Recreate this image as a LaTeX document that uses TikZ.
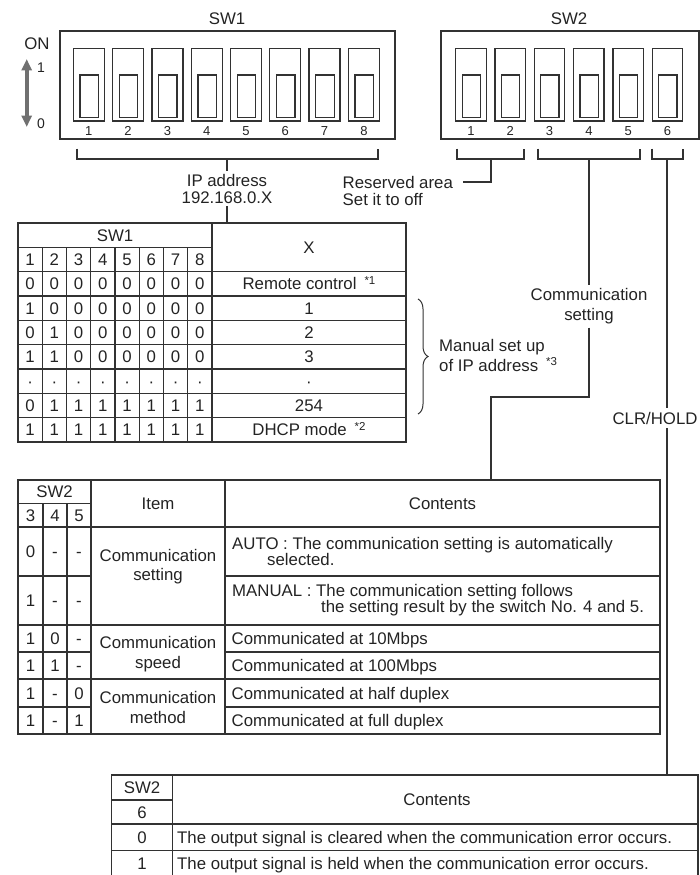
\documentclass[tikz,border=0pt]{standalone}
\usepackage{fontspec}
\setmainfont{Liberation Sans}
\usepackage{tikz}
\usetikzlibrary{arrows.meta,positioning,decorations.pathreplacing}
\definecolor{inkgrey}{RGB}{35,35,35}
\definecolor{rulegrey}{RGB}{50,50,50}
\definecolor{armgrey}{RGB}{112,112,112}
\newcommand{\fnmark}[1]{\hspace{8pt}\raisebox{5.5pt}{\fontsize{11.5}{11.5}\selectfont *#1}}

\begin{document}
\begin{tikzpicture}[x=1pt,y=-1pt,
  every node/.style={font=\fontsize{16.8}{17}\selectfont,text=inkgrey,inner sep=2pt},
  frame/.style={draw=rulegrey,line width=1.3pt},
  wire/.style={draw=rulegrey,line width=1.3pt},
  cell/.style={text height=12pt,text depth=0pt,inner sep=0pt},
  pin/.style={font=\fontsize{13}{13}\selectfont,text height=9.4pt,text depth=0pt,inner sep=0pt},
  arm/.style={draw=armgrey,line width=3.6pt,
              {Triangle[width=10pt,length=11.5pt]}-{Triangle[width=10pt,length=11.5pt]}}]

\useasboundingbox (0,0) rectangle (700,875);

% switch blocks
\node[cell] (sw1) at (227,19) {SW1};
\node[cell] (sw2) at (569,19) {SW2};
\draw[frame] (60,31) rectangle (395,139);
\draw[frame] (441,31) rectangle (699,139);
\foreach \i in {1,...,8} {
  \pgfmathsetmacro\xs{73.3+(\i-1)*39.3}
  \draw[frame] (\xs,48.5) rectangle ++(31,72.5);
  \draw[frame] (\xs+6.7,75) rectangle ++(18.5,42.3);
  \node[pin] (p1\i) at (\xs+15.5,131) {\i};
}
\foreach \i in {1,...,6} {
  \pgfmathsetmacro\xs{455.7+(\i-1)*39.3}
  \draw[frame] (\xs,48.5) rectangle ++(30.5,72.5);
  \draw[frame] (\xs+6.5,75) rectangle ++(18.3,42.3);
  \node[pin] (p2\i) at (\xs+15.3,131) {\i};
}

% on/off arrow
\node[cell] (on) at (37,44) {ON};
\node[cell,font=\fontsize{14}{14}\selectfont,text height=10pt] (one) at (41,68) {1};
\node[cell,font=\fontsize{14}{14}\selectfont,text height=10pt] (zero) at (41,123) {0};
\coordinate (armTop) at (26.7,59);
\coordinate (armBot) at (26.7,127);
\draw[arm] (armTop) -- (armBot);

% brackets under the switches
\foreach \l/\r in {77/378,457/524,538/640,652/683}
  \draw[wire] (\l,148.5) |- (\r,159) -- (\r,148.5);
\coordinate (ipTick) at (227,159);
\coordinate (rsvTick) at (491,159);
\coordinate (comTick) at (589,159);
\coordinate (clrTick) at (667,159);

\node[align=center,inner sep=3pt] (ip) at (227,188.5) {IP address\\192.168.0.X};
\node[cell,anchor=west] (rsv) at (342.5,182) {Reserved area};
\node[cell,below=5pt of rsv.south west,anchor=north west] (rsvoff) {Set it to off};
\node[align=center,inner sep=3pt] (com) at (589,306.5) {Communication\\[3pt]setting};
\node[cell,inner ysep=4pt] (clr) at (655,418) {CLR/HOLD};

\coordinate (ipEnd) at (227,223);
\coordinate (comBend) at (491,397);
\coordinate (comEnd) at (491,480);
\coordinate (clrEnd) at (667,775);

\draw[wire] (ipTick) -- (ip.north);
\draw[wire] (ip.south) -- (ipEnd);
\draw[wire] (rsvTick) |- ([xshift=10pt]rsv.east);
\draw[wire] (comTick) -- (com.north);
\draw[wire] (com.south) |- (comBend) -- (comEnd);
\draw[wire] (clrTick) -- (clrTick |- clr.north);
\draw[wire] (clrTick |- clr.south) -- (clrEnd);

% SW1 table
\draw[frame] (18,223) rectangle (406,442);
\draw[frame] (212,223) -- (212,442);
\draw[frame] (18,247.3) -- (212,247.3);
\foreach \r in {2,...,8} \draw[frame] (18,223+\r*24.33) -- (406,223+\r*24.33);
\foreach \c in {1,...,7} \draw[frame] (18+\c*24.25,247.3) -- (18+\c*24.25,442);

\node[cell] (t1sw) at (115,235.2) {SW1};
\node[cell] (t1x) at (309,247.5) {X};
\foreach \c in {1,...,8} \node[cell] (h\c) at (5.875+\c*24.25,259.5) {\c};
\foreach \row/\bits/\val in {
  2/{0,0,0,0,0,0,0,0}/{Remote control\fnmark{1}},
  3/{1,0,0,0,0,0,0,0}/1,
  4/{0,1,0,0,0,0,0,0}/2,
  5/{1,1,0,0,0,0,0,0}/3,
  6/{·,·,·,·,·,·,·,·}/·,
  7/{0,1,1,1,1,1,1,1}/254,
  8/{1,1,1,1,1,1,1,1}/{DHCP mode\fnmark{2}}} {
  \pgfmathsetmacro\yr{223+(\row+0.5)*24.33}
  \foreach \b [count=\c] in \bits
    \node[cell] (b\row-\c) at (5.875+\c*24.25,\yr) {\b};
  \node[cell] (x\row) at (309,\yr) {\val};
}

\draw[rulegrey,line width=1pt,decorate,decoration={brace,amplitude=10pt}] (418,299) -- (418,414);
\node[anchor=west,align=left] (man) at (437,355) {Manual set up\\[2pt]of IP address\fnmark{3}};

% SW2 table
\draw[frame] (18,480) rectangle (660,734);
\draw[frame] (18,503.5) -- (91,503.5);
\draw[frame] (18,527) -- (660,527);
\foreach \x in {43,67} \draw[frame] (\x,503.5) -- (\x,734);
\foreach \x in {91,225} \draw[frame] (\x,480) -- (\x,734);
\foreach \y in {576,652,707} {
  \draw[frame] (18,\y) -- (91,\y);
  \draw[frame] (225,\y) -- (660,\y);
}
\foreach \y in {625,679} \draw[frame] (18,\y) -- (660,\y);

\node[cell] (t2sw) at (54.5,491.5) {SW2};
\foreach \n/\x in {3/30.5,4/55,5/79} \node[cell] (k\n) at (\x,515.5) {\n};
\node[cell] (item) at (158,503.5) {Item};
\node[cell] (cont) at (442.5,503.5) {Contents};
\foreach \y/\p/\q/\s [count=\n] in {551.5/0/-/-,600.5/1/-/-,638.5/1/0/-,665.5/1/1/-,693/1/-/0,720.5/1/-/1} {
  \node[cell] (sa\n) at (30.5,\y) {\p};
  \node[cell] (sb\n) at (55,\y) {\q};
  \node[cell] (sc\n) at (79,\y) {\s};
}
\node[align=center] (iset) at (158,567) {Communication\\[2pt]setting};
\node[align=center] (ispd) at (158,654.5) {Communication\\[3pt]speed};
\node[align=center] (imth) at (158,707) {Communication\\[3pt]method};

\node[anchor=west,align=left,font=\fontsize{16.8}{15.7}\selectfont] (cauto) at (230,551.5)
  {AUTO : The communication setting is automatically\\\hspace*{35pt}selected.};
\node[anchor=west,align=left,font=\fontsize{16.8}{15.7}\selectfont] (cman) at (230,600)
  {MANUAL : The communication setting follows\\\hspace*{89pt}the setting result by the switch No. 4 and 5.};
\foreach \y/\txt [count=\n] in {638.5/Communicated at 10Mbps,665.5/Communicated at 100Mbps,
    693/Communicated at half duplex,720.5/Communicated at full duplex}
  \node[cell,anchor=west] (c\n) at (231.5,\y) {\txt};

% SW2 No.6 table
\draw[frame] (111.7,875) |- (698,775) -- (698,875);
\draw[frame] (172.3,775) -- (172.3,875);
\draw[frame] (111.7,800) -- (172.3,800);
\foreach \y in {824,850.7} \draw[frame] (111.7,\y) -- (698,\y);

\node[cell] (t3sw) at (142,787.5) {SW2};
\node[cell] (t3six) at (142,812) {6};
\node[cell] (t3cont) at (437,799.5) {Contents};
\node[cell] (o0) at (142,837.3) {0};
\node[cell] (o1) at (142,863.5) {1};
\node[cell,anchor=west] (clr0) at (177,837.3) {The output signal is cleared when the communication error occurs.};
\node[cell,anchor=west] (clr1) at (177,863.5) {The output signal is held when the communication error occurs.};
\end{tikzpicture}
\end{document}
